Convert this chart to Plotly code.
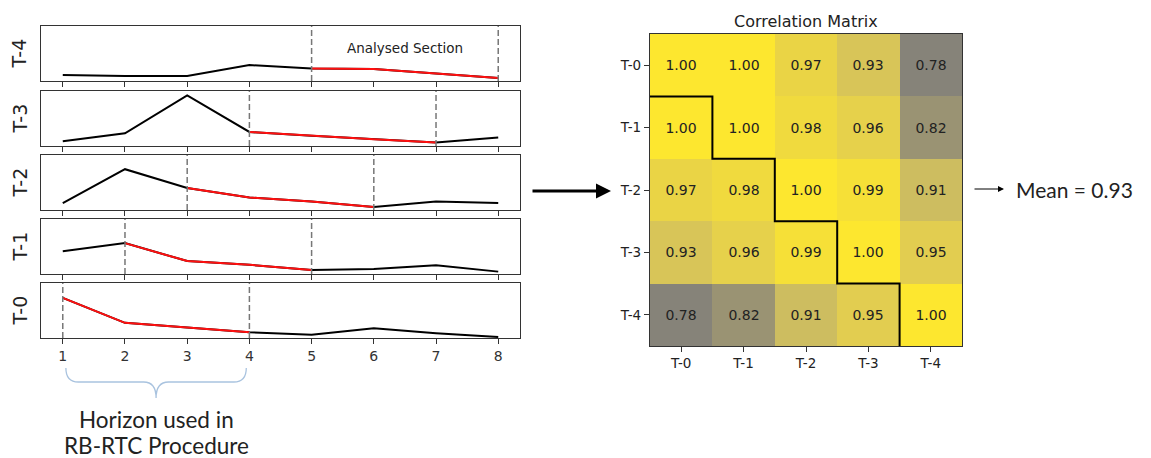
import plotly.graph_objects as go
import numpy as np

W, H = 1151, 458

# ---------------- data ----------------
steps = [1, 2, 3, 4, 5, 6, 7, 8]
series_names = ["T-4", "T-3", "T-2", "T-1", "T-0"]
t4 = [0.111, 0.093, 0.093, 0.290, 0.228, 0.216, 0.136, 0.056]
t3 = [0.087, 0.230, 0.919, 0.255, 0.186, 0.124, 0.062, 0.155]
t2 = [0.123, 0.742, 0.399, 0.227, 0.153, 0.055, 0.153, 0.129]
t1 = [0.414, 0.562, 0.235, 0.167, 0.074, 0.093, 0.160, 0.043]
t0 = [0.730, 0.276, 0.190, 0.104, 0.061, 0.178, 0.086, 0.018]
series_values = [t4, t3, t2, t1, t0]
window_start = [5, 4, 3, 2, 1]   # first step of analysed section per series
window_len = 4

corr_labels = ["T-0", "T-1", "T-2", "T-3", "T-4"]
corr = [
    [1.00, 1.00, 0.97, 0.93, 0.78],
    [1.00, 1.00, 0.98, 0.96, 0.82],
    [0.97, 0.98, 1.00, 0.99, 0.91],
    [0.93, 0.96, 0.99, 1.00, 0.95],
    [0.78, 0.82, 0.91, 0.95, 1.00],
]
horizon_lines = ["Horizon used in", "RB-RTC Procedure"]

# ---------------- layout helpers ----------------
def px(x):
    return x / W

def py(y):
    return 1 - y / H

panel_tops = [26, 91, 155, 219, 283]
panel_h = 55
left_x0, left_x1 = 41, 520
hm_x0, hm_x1, hm_y0, hm_y1 = 650, 962, 34, 346

fig = go.Figure()
shapes = []
annotations = []
layout = dict(
    width=W, height=H, margin=dict(l=0, r=0, t=0, b=0),
    paper_bgcolor="white", plot_bgcolor="white", showlegend=False,
    font=dict(family="DejaVu Sans", color="#222"),
)

for i, (name, vals, ws) in enumerate(zip(series_names, series_values, window_start)):
    k = i + 1
    xa = "x" if k == 1 else f"x{k}"
    ya = "y" if k == 1 else f"y{k}"
    # full series black
    fig.add_trace(go.Scatter(x=steps, y=vals, mode="lines", xaxis=xa, yaxis=ya,
                             line=dict(color="black", width=2), hoverinfo="skip"))
    # analysed section in red
    idx = [j for j, s in enumerate(steps) if ws <= s <= ws + window_len - 1]
    fig.add_trace(go.Scatter(x=[steps[j] for j in idx], y=[vals[j] for j in idx],
                             mode="lines", xaxis=xa, yaxis=ya,
                             line=dict(color="#ff1010", width=2), hoverinfo="skip"))
    for xv in (ws, ws + window_len - 1):
        shapes.append(dict(type="line", xref=xa, yref=f"{ya} domain", x0=xv, x1=xv,
                           y0=0, y1=1, line=dict(color="#777", width=1.5, dash="6px,3px")))
    top = panel_tops[i]
    layout["xaxis" if k == 1 else f"xaxis{k}"] = dict(
        domain=[px(left_x0), px(left_x1)], anchor=ya, range=[0.65, 8.35],
        tickvals=steps, ticktext=[str(s) for s in steps], showticklabels=(k == 5),
        ticks="outside", ticklen=5, tickwidth=1.3, tickcolor="#333",
        showline=True, mirror=True, linecolor="#333", linewidth=1.2,
        showgrid=False, zeroline=False, tickfont=dict(size=14, color="#333"),
    )
    layout["yaxis" if k == 1 else f"yaxis{k}"] = dict(
        domain=[py(top + panel_h), py(top)], anchor=xa, range=[0, 1],
        showticklabels=False, ticks="", showline=True, mirror=True,
        linecolor="#333", linewidth=1.2, showgrid=False, zeroline=False,
    )
    annotations.append(dict(xref="paper", yref="paper", x=px(19), y=py(top + panel_h / 2),
                            text=name, showarrow=False, textangle=-90,
                            font=dict(size=19, color="#222"), xanchor="center", yanchor="middle"))

# Analysed Section label (top panel, centered over its window)
annotations.append(dict(xref="x", yref="y", x=window_start[0] + (window_len - 1) / 2, y=0.6,
                        text="Analysed Section", showarrow=False,
                        font=dict(size=13.5, color="#222", family="DejaVu Sans")))

# brace under the bottom axis spanning the T-0 window
b0 = window_start[-1] + 0.05
b1 = window_start[-1] + window_len - 1 - 0.05
bc = (b0 + b1) / 2
yt, ym, yb = py(368), py(382), py(398)
brace = (f"M {b0},{yt} Q {b0},{ym} {b0 + 0.2},{ym} L {bc - 0.2},{ym} "
         f"Q {bc},{ym} {bc},{yb} Q {bc},{ym} {bc + 0.2},{ym} L {b1 - 0.2},{ym} "
         f"Q {b1},{ym} {b1},{yt}")
shapes.append(dict(type="path", xref="x5", yref="paper", path=brace,
                   line=dict(color="#a9c3df", width=1.3)))
for line_text, ly in zip(horizon_lines, (419, 445)):
    annotations.append(dict(xref="x5", yref="paper", x=bc, y=py(ly),
                            text=line_text, showarrow=False,
                            font=dict(size=22.5, color="#222", family="Lato"),
                            xanchor="center", yanchor="middle"))

# ---------------- heatmap ----------------
cidx = list(range(len(corr_labels)))
colorscale = [
    [0.00, "#868379"], [0.18, "#9a9373"], [0.59, "#cdbd60"], [0.68, "#d8c558"],
    [0.77, "#e2cd50"], [0.86, "#ead446"], [0.91, "#f0da3e"], [1.00, "#fde72f"],
]
fig.add_trace(go.Heatmap(
    z=corr, x=cidx, y=cidx, xaxis="x6", yaxis="y6", colorscale=colorscale,
    zmin=min(min(r) for r in corr), zmax=1.0, showscale=False,
    texttemplate="%{z:.2f}", textfont=dict(size=14, color="#222", family="DejaVu Sans"),
    hoverinfo="skip",
))
layout["xaxis6"] = dict(
    domain=[px(hm_x0), px(hm_x1)], anchor="y6", range=[-0.5, 4.5],
    tickvals=cidx, ticktext=corr_labels, ticks="outside", ticklen=5, tickcolor="#333",
    showline=True, mirror=True, linecolor="#333", linewidth=1.2, showgrid=False,
    zeroline=False, tickfont=dict(size=13.5, color="#222"),
)
layout["yaxis6"] = dict(
    domain=[py(hm_y1), py(hm_y0)], anchor="x6", range=[4.5, -0.5],
    tickvals=cidx, ticktext=corr_labels, ticks="outside", ticklen=5, tickcolor="#333",
    showline=True, mirror=True, linecolor="#333", linewidth=1.2, showgrid=False,
    zeroline=False, tickfont=dict(size=13.5, color="#222"),
)
# staircase separating lower triangle
n = len(corr_labels)
stair = f"M -0.5,0.5"
for j in range(n - 1):
    stair += f" H {j + 0.5} V {j + 1.5}"
shapes.append(dict(type="path", xref="x6", yref="y6", path=stair,
                   line=dict(color="black", width=2)))
annotations.append(dict(xref="paper", yref="paper", x=px((hm_x0 + hm_x1) / 2), y=py(21),
                        text="Correlation Matrix", showarrow=False, xanchor="center",
                        font=dict(size=16, color="#222"), yanchor="middle"))

# arrows and mean text
annotations.append(dict(xref="paper", yref="paper", x=px(611), y=py(191), ax=-80, ay=0,
                        text="", showarrow=True, arrowhead=2, arrowsize=1, arrowwidth=3,
                        arrowcolor="black"))
annotations.append(dict(xref="paper", yref="paper", x=px(1004), y=py(189), ax=-31, ay=0,
                        text="", showarrow=True, arrowhead=2, arrowsize=1.2, arrowwidth=1,
                        arrowcolor="black"))
off_diag = [corr[a][b] for a in range(n) for b in range(n) if a < b]
mean_val = float(np.mean(off_diag))
annotations.append(dict(xref="paper", yref="paper", x=px(1014), y=py(189),
                        text=f"Mean = {mean_val:.2f}", showarrow=False, xanchor="left",
                        yanchor="middle", font=dict(size=21, color="#222", family="Lato")))

layout["shapes"] = shapes
layout["annotations"] = annotations
fig.update_layout(**layout)
fig.write_html("out.html", config={"displayModeBar": False},
               post_script="document.body.style.margin='0';document.body.style.overflow='hidden';")
